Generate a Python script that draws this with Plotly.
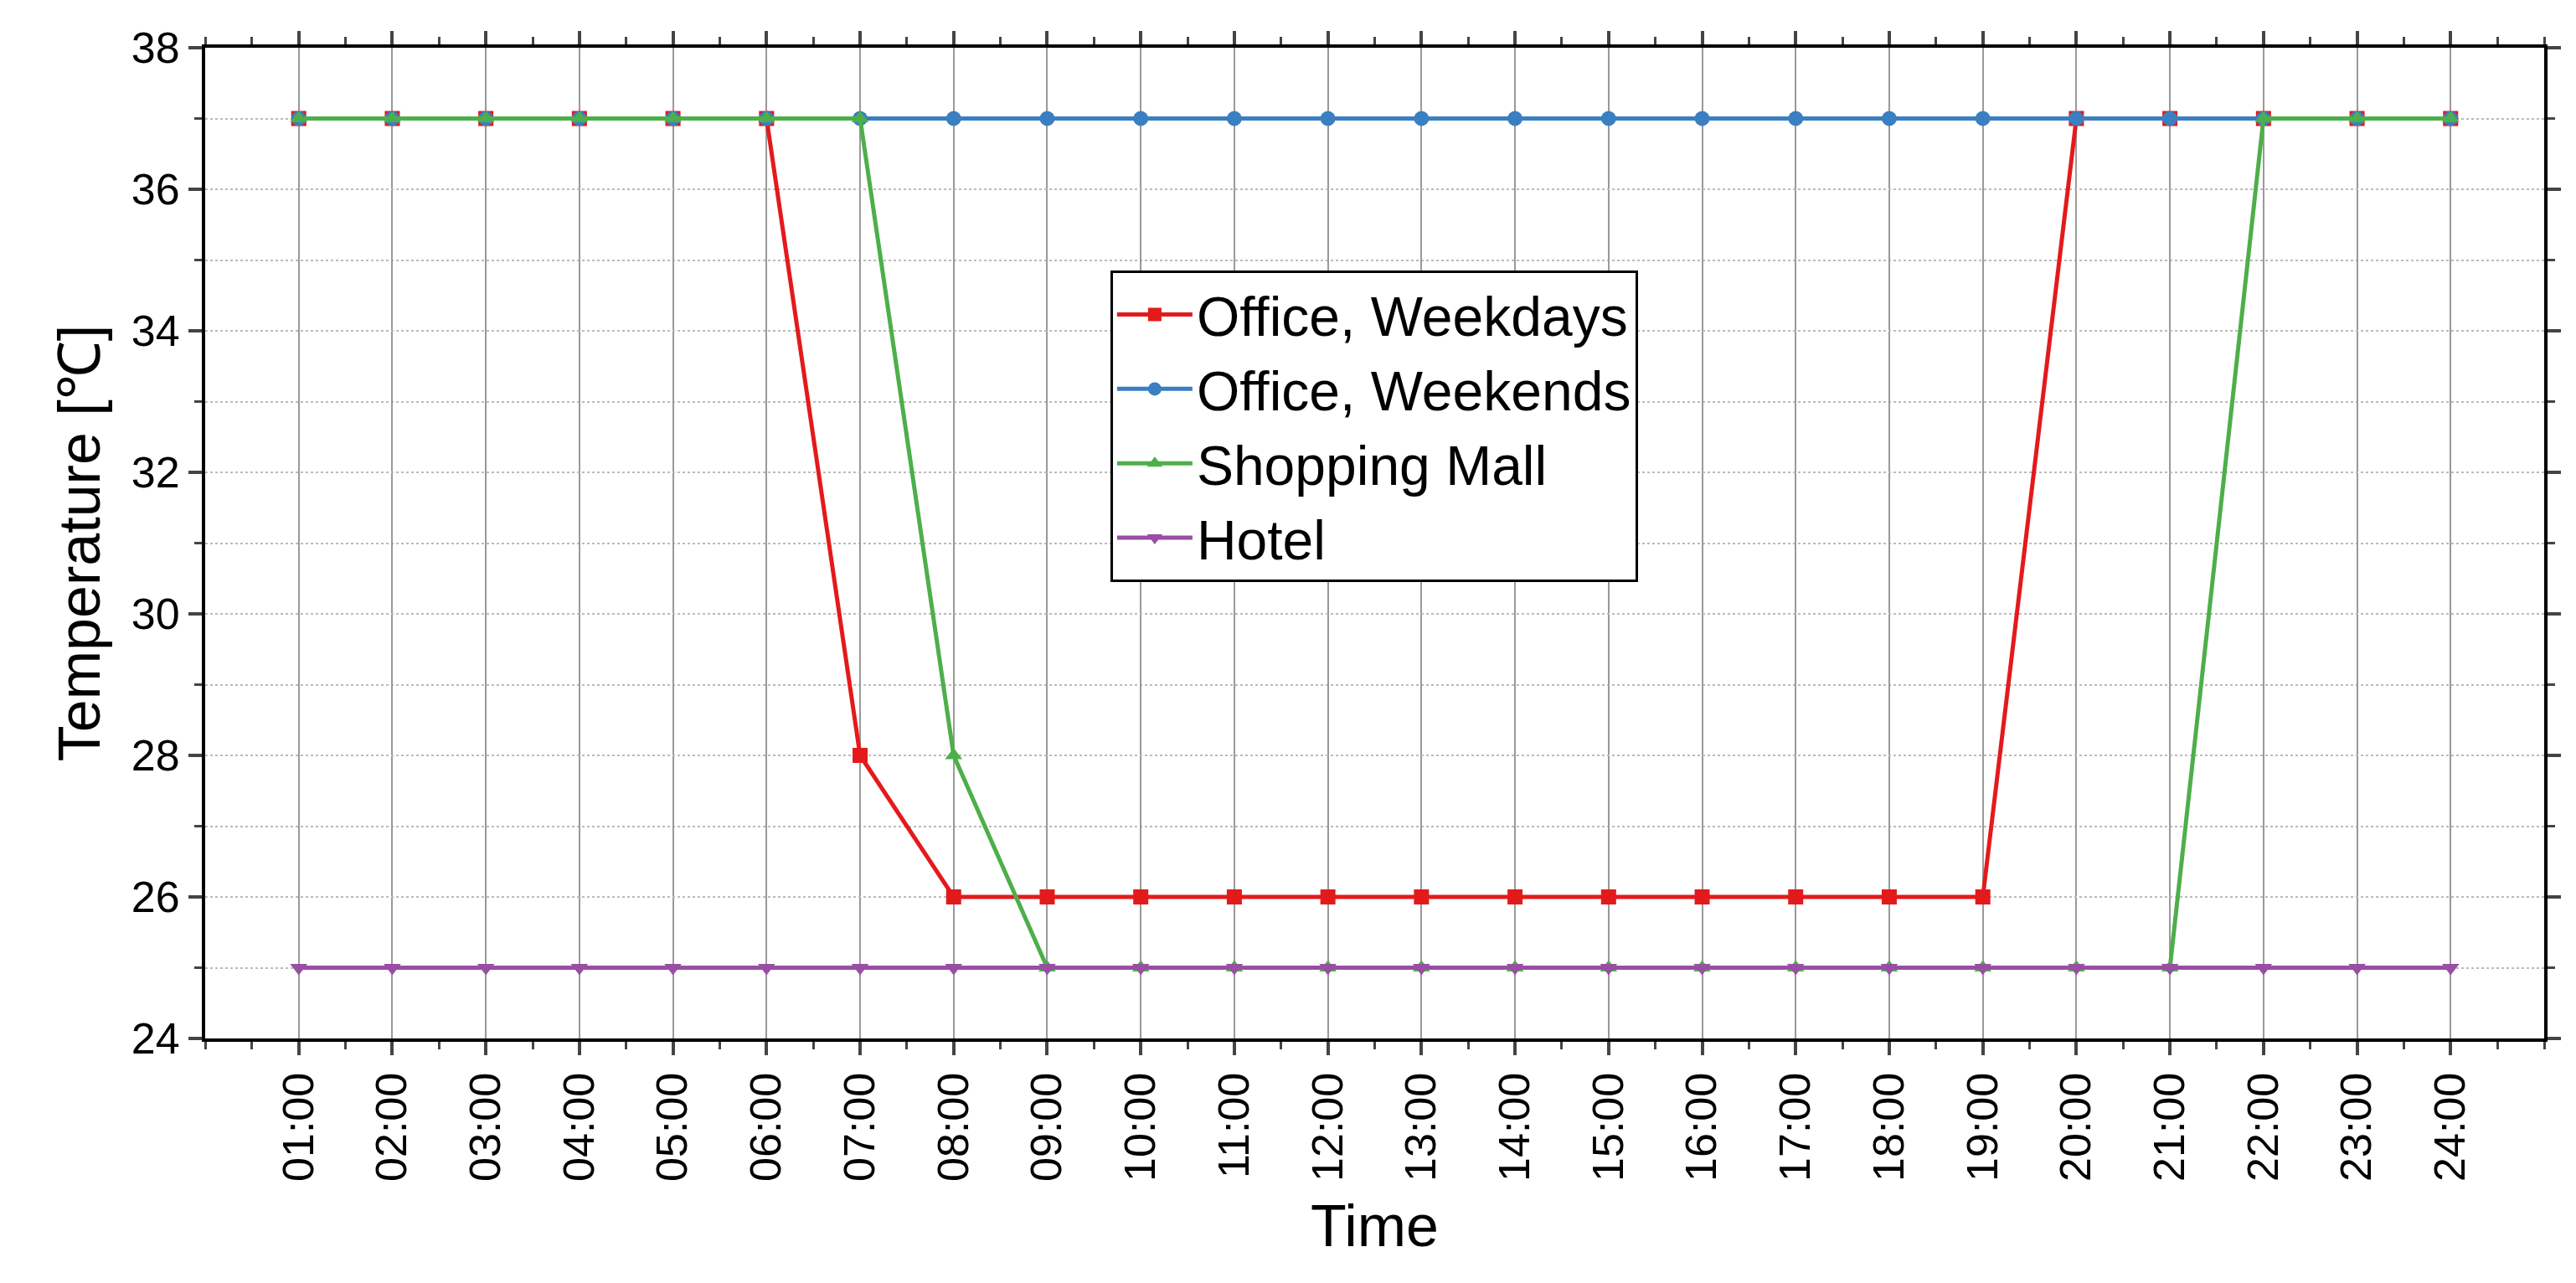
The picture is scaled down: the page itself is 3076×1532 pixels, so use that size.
import plotly.graph_objects as go

hours = list(range(1, 25))
tick_labels = [f"{h:02d}:00" for h in hours]
office_weekdays = [37]*6 + [28] + [26]*12 + [37]*5
office_weekends = [37]*24
shopping_mall = [37]*7 + [28] + [25]*13 + [37]*3
hotel = [25]*24

series = [
    ("Office, Weekdays", office_weekdays, "#e31a1c", "square"),
    ("Office, Weekends", office_weekends, "#3a7fc1", "circle"),
    ("Shopping Mall", shopping_mall, "#4daf4a", "triangle-up"),
    ("Hotel", hotel, "#984ea3", "triangle-down"),
]

fig = go.Figure()
for name, vals, col, sym in series:
    fig.add_trace(go.Scatter(x=hours, y=vals, name=name, mode="lines+markers",
                             line=dict(color=col, width=5),
                             marker=dict(symbol=sym, size=18, color=col)))

fig.update_layout(
    width=3076, height=1532, paper_bgcolor="white", plot_bgcolor="white",
    margin=dict(l=237, r=46, t=49, b=300),
    font=dict(family="Liberation Sans, Arial", color="black", size=52),
    legend=dict(x=0.387, y=0.775, xanchor="left", yanchor="top", itemwidth=90,
                bordercolor="black", borderwidth=3, font=dict(size=66),
                bgcolor="white", tracegroupgap=0),
)
fig.update_xaxes(range=[0, 25], tickvals=hours, ticktext=tick_labels, tickangle=-90,
                 showline=True, linecolor="black", linewidth=4, mirror="ticks",
                 ticks="outside", ticklen=16, tickwidth=4,
                 minor=dict(ticks="outside", ticklen=9, tickwidth=3, dtick=0.5, tick0=0.5, showgrid=False),
                 showgrid=True, gridcolor="#999", gridwidth=2,
                 title=dict(text="Time", font=dict(size=70), standoff=30), zeroline=False)
fig.update_yaxes(range=[24, 38], dtick=2, showline=True, linecolor="black", linewidth=4, mirror="ticks",
                 ticks="outside", ticklen=16, tickwidth=4,
                 minor=dict(ticks="outside", ticklen=9, tickwidth=3, dtick=1, showgrid=True,
                            gridcolor="#bbb", griddash="dot", gridwidth=2),
                 showgrid=True, gridcolor="#bbb", griddash="dot", gridwidth=2,
                 title=dict(text="Temperature [℃]", font=dict(size=70)), zeroline=False)
fig.write_html("out.html")
